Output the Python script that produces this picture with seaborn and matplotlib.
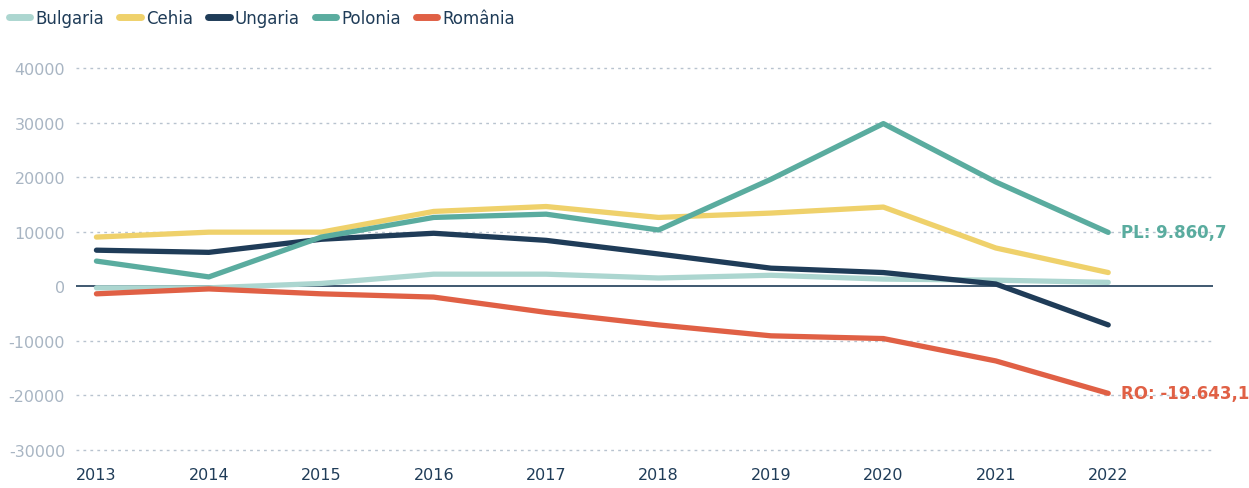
import matplotlib
matplotlib.use("Agg")
import matplotlib.pyplot as plt
import seaborn as sns
import pandas as pd

years = [2013, 2014, 2015, 2016, 2017, 2018, 2019, 2020, 2021, 2022]
countries = ["Bulgaria", "Cehia", "Ungaria", "Polonia", "România"]
bulgaria = [-300, -300, 500, 2200, 2200, 1500, 2000, 1300, 1100, 700]
cehia = [9000, 9900, 9900, 13700, 14600, 12600, 13400, 14500, 7000, 2500]
ungaria = [6600, 6200, 8600, 9700, 8400, 5900, 3300, 2500, 400, -7100]
polonia = [4600, 1700, 9000, 12600, 13200, 10300, 19600, 29800, 19100, 9860.7]
romania = [-1400, -500, -1400, -2000, -4800, -7100, -9100, -9600, -13700, -19643.1]
colors = ["#acd6d0", "#efd16b", "#1f3c58", "#5aac9f", "#e06045"]
end_labels = {"Polonia": "PL: 9.860,7", "România": "RO: -19.643,1"}

series = [bulgaria, cehia, ungaria, polonia, romania]
df = pd.concat([pd.DataFrame({"an": years, "valoare": v, "tara": c})
                for c, v in zip(countries, series)], ignore_index=True)

sns.set_style("white")
plt.rcParams['font.family'] = ['DejaVu Sans']

fig = plt.figure(figsize=(12.49, 4.89), dpi=100)
ax = fig.add_axes([0.061, 0.078, 0.91, 0.781])

ax.set_xlim(2012.82, 2022.93)
ax.set_ylim(-30000, 40000)
for t in range(-30000, 40001, 10000):
    if t != 0:
        ax.axhline(t, color="#b8c3cf", lw=1, ls=(0, (2, 3)), zorder=0,
                   clip_on=False)
ax.axhline(0, color="#1f3c58", lw=1.2, zorder=1)

sns.lineplot(data=df, x="an", y="valoare", hue="tara", hue_order=countries,
             palette=colors, linewidth=3.8, ax=ax, legend=False,
             solid_capstyle="round", clip_on=False)

for c, col in zip(countries, colors):
    if c in end_labels:
        v = df[(df.tara == c) & (df.an == years[-1])].valoare.iloc[0]
        ax.text(years[-1] + 0.11, v, end_labels[c], color=col, fontsize=12,
                fontweight="bold", va="center", ha="left", clip_on=False)

ax.set_xticks(years)
ax.set_xticklabels([str(y) for y in years], color="#1f3c58", fontsize=11.5)
ax.set_yticks(range(-30000, 40001, 10000))
ax.set_yticklabels([str(t) for t in range(-30000, 40001, 10000)],
                   color="#a8b5c3", fontsize=11.5)
ax.tick_params(axis="x", length=0, pad=12)
ax.tick_params(axis="y", length=0, pad=8)
ax.set_xlabel("")
ax.set_ylabel("")
sns.despine(ax=ax, left=True, bottom=True)

handles = [plt.Line2D([0], [0], color=col, lw=5, solid_capstyle="round")
           for col in colors]
leg = fig.legend(handles, countries, loc="upper left", bbox_to_anchor=(-0.005, 1.01),
                 ncol=5, frameon=False, handlelength=1.3, handletextpad=0.3,
                 columnspacing=0.9, fontsize=12)
for t in leg.get_texts():
    t.set_color("#1f3c58")

fig.savefig("out.png", dpi=100)
